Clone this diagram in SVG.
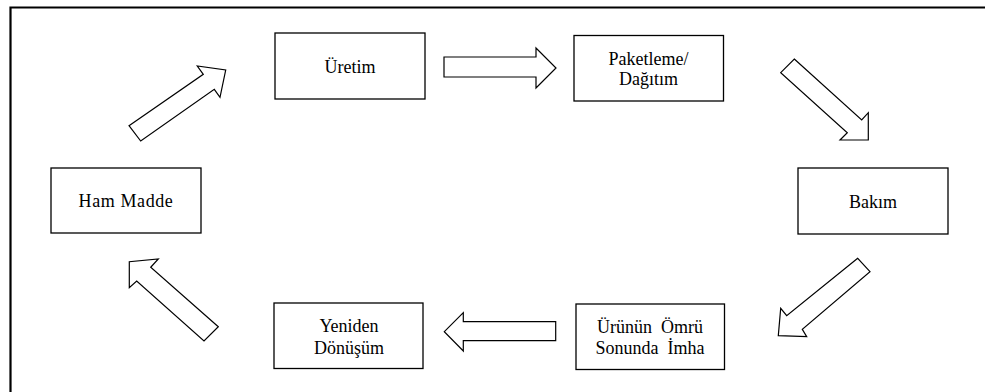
<svg xmlns="http://www.w3.org/2000/svg" width="985" height="392" viewBox="0 0 985 392">
<style>
.box{fill:#fff;stroke:#000;stroke-width:1.3}
.arr{fill:#fff;stroke:#000;stroke-width:1.2;stroke-linejoin:miter}
.t{font-family:"Liberation Serif","Times New Roman",serif;font-size:18px;fill:#000;text-anchor:middle}
</style>
<rect width="985" height="392" fill="#fff"/>
<path d="M10.5,392 V7.5 H985" fill="none" stroke="#000" stroke-width="2.2"/>
<g id="uretim"><rect class="box" x="275" y="33" width="150" height="66"/><text class="t" x="350" y="72.5">Üretim</text></g>
<g id="paketleme"><rect class="box" x="574" y="35.5" width="149.5" height="65.5"/><text class="t" x="648.5" y="64.5">Paketleme/</text><text class="t" x="648.5" y="85">Dağıtım</text></g>
<g id="bakim"><rect class="box" x="798" y="168" width="150" height="66"/><text class="t" x="873" y="208">Bakım</text></g>
<g id="omur"><rect class="box" x="576" y="304" width="148.5" height="65.5"/><text class="t" x="650" y="332.5" xml:space="preserve">Ürünün  Ömrü</text><text class="t" x="650" y="354" xml:space="preserve">Sonunda  İmha</text></g>
<g id="yeniden"><rect class="box" x="274" y="303" width="149" height="65.5"/><text class="t" x="349" y="332">Yeniden</text><text class="t" x="349" y="353.5">Dönüşüm</text></g>
<g id="hammadde"><rect class="box" x="51" y="168" width="150" height="65"/><text class="t" x="126" y="206.5" letter-spacing="0.6">Ham Madde</text></g>
<g id="connectors">
<polygon class="arr" points="129,125.7 203.3,74.3 197.3,66 225.7,70 220,97.3 214.3,89.3 140.7,141"/>
<polygon class="arr" points="444,57 536,57 536,48 556,68 536,88 536,77 444,77"/>
<polygon class="arr" points="794.3,59 861.7,120 868.3,112.7 868.3,140 840,140 847.3,132.7 780.7,72.7"/>
<polygon class="arr" points="857.7,258.3 786.7,315.7 780.7,308.3 778.3,335.7 806.7,336.7 802.3,329.3 870,271.7"/>
<polygon class="arr" points="555.7,321.7 463.3,321.7 463.3,312.7 444.3,331.7 463.3,351 463.3,340.7 555.7,340.7"/>
<polygon class="arr" points="218.3,326.7 150.7,267.3 158.3,259 129.3,261.7 129.3,287.7 136.7,281 204,341"/>
</g>
</svg>
